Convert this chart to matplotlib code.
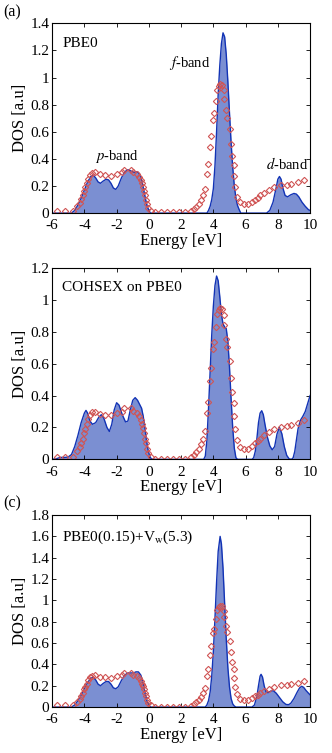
import numpy as np
import matplotlib.pyplot as plt
from matplotlib.ticker import FormatStrFormatter

plt.rcParams['font.family'] = ['Liberation Serif', 'DejaVu Serif']
plt.rcParams['mathtext.fontset'] = 'stix'
plt.rcParams['axes.unicode_minus'] = False

# experiment (same in every panel)
exp_e = [-5.67, -5.19, -4.72, -4.43, -4.3, -4.2, -4.1, -4.0, -3.93, -3.85, -3.75, -3.64,
         -3.52, -3.33, -3.06, -2.71, -2.36, -1.99, -1.68, -1.53, -1.12, -0.96, -0.75, -0.6,
         -0.5, -0.44, -0.38, -0.32, -0.25, -0.19, -0.11, -0.03, 0.12, 0.39, 0.74, 1.11,
         1.48, 1.88, 2.27, 2.62, 2.79, 2.93, 3.08, 3.22, 3.36, 3.47, 3.59, 3.69, 3.8,
         3.88, 3.96, 4.03, 4.15, 4.25, 4.32, 4.42, 4.52, 4.63, 4.69, 4.79, 4.87, 5.04,
         5.12, 5.18, 5.25, 5.31, 5.37, 5.49, 5.66, 5.87, 6.18, 6.42, 6.59, 6.75, 6.9,
         7.15, 7.48, 7.79, 8.18, 8.55, 8.82, 9.23, 9.63]
exp_dos = [0.015, 0.015, 0.017, 0.05, 0.076, 0.105, 0.13, 0.165, 0.19, 0.22, 0.255, 0.28,
           0.295, 0.30, 0.285, 0.28, 0.275, 0.29, 0.30, 0.32, 0.32, 0.305, 0.29, 0.27,
           0.245, 0.22, 0.195, 0.165, 0.13, 0.10, 0.066, 0.037, 0.015, 0.005, 0.005, 0.005,
           0.005, 0.005, 0.005, 0.012, 0.027, 0.047, 0.066, 0.095, 0.13, 0.18, 0.29, 0.36,
           0.49, 0.57, 0.69, 0.735, 0.83, 0.91, 0.94, 0.95, 0.945, 0.905, 0.845, 0.757,
           0.705, 0.617, 0.513, 0.42, 0.356, 0.273, 0.19, 0.12, 0.08, 0.066, 0.066, 0.083,
           0.10, 0.115, 0.13, 0.15, 0.17, 0.19, 0.205, 0.21, 0.215, 0.23, 0.245]

# (a) PBE0
pbe0_e = [-6.0, -4.8, -4.6, -4.4, -4.2, -4.0, -3.8, -3.6, -3.45, -3.3, -3.15, -3.0, -2.85,
          -2.65, -2.5, -2.35, -2.2, -2.05, -1.9, -1.7, -1.5, -1.3, -1.1, -0.95, -0.8,
          -0.65, -0.5, -0.4, -0.3, -0.2, -0.1, 0.0, 0.1, 3.6, 3.7, 3.8, 3.9, 4.0, 4.1,
          4.2, 4.3, 4.4, 4.5, 4.6, 4.7, 4.8, 4.9, 5.0, 5.1, 5.2, 5.3, 5.4, 5.5, 5.6, 5.7,
          7.3, 7.5, 7.7, 7.9, 8.0, 8.1, 8.2, 8.3, 8.45, 8.6, 8.8, 9.0, 9.15, 9.3, 9.5,
          9.7, 9.9, 10.0]
pbe0_dos = [0, 0, 0.02, 0.06, 0.11, 0.17, 0.23, 0.27, 0.28, 0.26, 0.23, 0.22, 0.235,
            0.25, 0.245, 0.22, 0.185, 0.175, 0.2, 0.26, 0.305, 0.32, 0.31, 0.30, 0.305,
            0.30, 0.27, 0.22, 0.16, 0.10, 0.05, 0.02, 0, 0, 0.02, 0.05, 0.1, 0.18, 0.35,
            0.6, 0.88, 1.09, 1.25, 1.33, 1.30, 1.17, 0.97, 0.74, 0.52, 0.34, 0.2, 0.11,
            0.056, 0.026, 0,
            0, 0.02, 0.08, 0.19, 0.25, 0.27, 0.25, 0.19, 0.13, 0.12, 0.135, 0.145, 0.14,
            0.12, 0.08, 0.05, 0.025, 0.02]

# (b) COHSEX on PBE0
cohsex_e = [-6.0, -5.7, -5.5, -5.2, -5.0, -4.8, -4.6, -4.4, -4.2, -4.0, -3.9, -3.8, -3.65,
            -3.5, -3.3, -3.1, -2.95, -2.8, -2.6, -2.45, -2.3, -2.15, -2.0, -1.85, -1.65,
            -1.45, -1.3, -1.15, -1.0, -0.85, -0.7, -0.55, -0.45, -0.35, -0.25, -0.15,
            -0.05, 0.05, 0.15, 0.25, 3.4, 3.5, 3.6, 3.7, 3.8, 3.9, 4.0, 4.1, 4.2, 4.3,
            4.4, 4.5, 4.6, 4.7, 4.8, 4.9, 5.0, 5.1, 5.2, 5.3, 5.4, 5.5, 6.4, 6.5, 6.6,
            6.7, 6.8, 6.9, 7.0, 7.1, 7.2, 7.35, 7.5, 7.65, 7.8, 7.95, 8.1, 8.25, 8.4,
            8.55, 8.7, 8.85, 8.95, 9.05, 9.15, 9.25, 9.4, 9.55, 9.7, 9.85, 10.0]
cohsex_dos = [0, 0.005, 0.012, 0.012, 0.015, 0.03, 0.08, 0.15, 0.23, 0.29, 0.307, 0.29,
              0.24, 0.22, 0.23, 0.265, 0.28, 0.26, 0.2, 0.175, 0.22, 0.31, 0.355, 0.34,
              0.28, 0.235, 0.24, 0.31, 0.37, 0.387, 0.37, 0.34, 0.32, 0.27, 0.2, 0.12,
              0.06, 0.02, 0.003, 0, 0, 0.02, 0.12, 0.32, 0.55, 0.78, 0.96, 1.09, 1.15,
              1.12, 1.02, 0.91, 0.85, 0.83, 0.82, 0.74, 0.58, 0.38, 0.2, 0.07, 0.01, 0,
              0, 0.01, 0.05, 0.13, 0.23, 0.29, 0.305, 0.28, 0.22, 0.14, 0.085, 0.06, 0.08,
              0.16, 0.2, 0.16, 0.08, 0.025, 0.003, 0, 0.01, 0.05, 0.12, 0.19, 0.245, 0.27,
              0.3, 0.35, 0.40]

# (c) PBE0(0.15)+Vw(5.3)
vw_e = [-6.0, -4.8, -4.6, -4.4, -4.2, -4.0, -3.8, -3.6, -3.45, -3.3, -3.15, -3.0, -2.85,
        -2.65, -2.5, -2.35, -2.2, -2.05, -1.9, -1.7, -1.5, -1.3, -1.1, -0.95, -0.8, -0.65,
        -0.5, -0.4, -0.3, -0.2, -0.1, 0.0, 0.1, 3.5, 3.6, 3.7, 3.8, 3.9, 4.0, 4.1, 4.2,
        4.3, 4.42, 4.5, 4.6, 4.7, 4.8, 4.9, 5.0, 5.1, 5.2, 5.3, 5.4, 6.4, 6.55, 6.7, 6.8,
        6.9, 6.96, 7.05, 7.15, 7.27, 7.4, 7.55, 7.73, 7.9, 8.1, 8.3, 8.5, 8.66, 8.8, 9.0,
        9.2, 9.35, 9.48, 9.6, 9.75, 9.9, 10.0]
vw_dos = [0, 0, 0.02, 0.06, 0.11, 0.17, 0.23, 0.27, 0.28, 0.255, 0.215, 0.2, 0.22, 0.24,
          0.24, 0.215, 0.18, 0.172, 0.19, 0.25, 0.3, 0.32, 0.32, 0.32, 0.33, 0.33, 0.3,
          0.25, 0.18, 0.11, 0.05, 0.02, 0, 0, 0.02, 0.06, 0.14, 0.29, 0.52, 0.83, 1.17,
          1.46, 1.6, 1.53, 1.3, 0.97, 0.64, 0.37, 0.19, 0.08, 0.03, 0.01, 0, 0, 0.02, 0.1,
          0.2, 0.29, 0.307, 0.28, 0.2, 0.14, 0.135, 0.15, 0.152, 0.13, 0.09, 0.05, 0.025,
          0.022, 0.035, 0.08, 0.14, 0.18, 0.195, 0.185, 0.155, 0.13, 0.115]

fig = plt.figure(figsize=(3.32, 7.53), dpi=100)
fill_c = '#7b8fd2'
line_c = '#1233b5'
exp_c = '#d05555'

panels = [
    ([0.157, 0.717, 0.777, 0.252], pbe0_e, pbe0_dos, 1.4, 'PBE0'),
    ([0.157, 0.390, 0.777, 0.254], cohsex_e, cohsex_dos, 1.2, 'COHSEX on PBE0'),
    ([0.157, 0.061, 0.777, 0.255], vw_e, vw_dos, 1.8, r'PBE0(0.15)+V$_{\rm w}$(5.3)'),
]

axes = []
for rect, e, d, ymax, name in panels:
    ax = fig.add_axes(rect)
    ax.fill_between(e, d, 0, color=fill_c, lw=0)
    ax.plot(e, d, color=line_c, lw=1.0)
    ax.plot(exp_e, exp_dos, 'D', ms=3.2, mfc='none', mec=exp_c, mew=0.8)
    ax.set_xlim(-6, 10)
    ax.set_ylim(0, ymax)
    ax.set_xticks(np.arange(-6, 11, 2))
    ax.set_yticks(np.arange(0, ymax + 0.01, 0.2))
    ax.yaxis.set_major_formatter(FormatStrFormatter('%g'))
    ax.tick_params(direction='in', top=True, right=True, labelsize=11, length=3, width=0.6)
    ax.tick_params(axis='x', pad=4.5)
    ax.tick_params(axis='y', pad=2)
    for s in ax.spines.values():
        s.set_linewidth(0.8)
    ax.set_xlabel('Energy [eV]', fontsize=12, labelpad=0.5)
    ax.set_ylabel('DOS [a.u]', fontsize=12, labelpad=2)
    ax.text(0.04, 0.93, name, transform=ax.transAxes, fontsize=11, va='top', ha='left')
    axes.append(ax)

ax = axes[0]
ax.text(-1.97, 0.42, r'$p$-band', fontsize=10.5, ha='center', va='center')
ax.text(2.56, 1.11, r'$f$-band', fontsize=10.5, ha='center', va='center')
ax.text(8.57, 0.36, r'$d$-band', fontsize=10.5, ha='center', va='center')

fig.text(0.036, 0.983, '(a)', fontsize=11.5, ha='center', va='center')
fig.text(0.036, 0.332, '(c)', fontsize=11.5, ha='center', va='center')

fig.savefig('out.png', dpi=100)
